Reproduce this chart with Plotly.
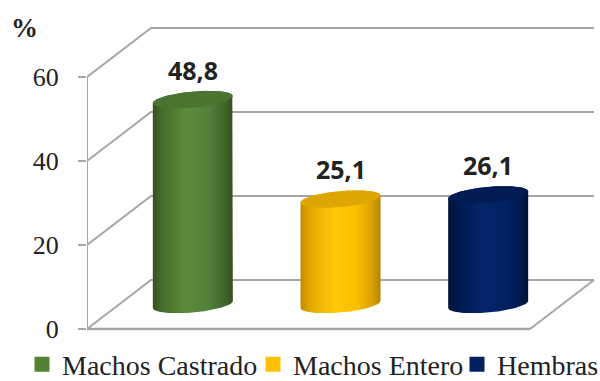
import numpy as np
import plotly.graph_objects as go

# ---- data -------------------------------------------------------------
categories = ["Machos Castrado", "Machos Entero", "Hembras"]
values = [48.8, 25.1, 26.1]
y_ticks = [0, 20, 40, 60]
y_unit_label = "%"

# ---- styling ----------------------------------------------------------
base_colors = ["#548235", "#FFC000", "#002060"]
side_scales = [
    [[0, "#35541f"], [0.12, "#456d2c"], [0.42, "#5b8c3b"], [0.7, "#52803a"], [0.9, "#41662a"], [1, "#334f1e"]],
    [[0, "#c08c00"], [0.12, "#e3a800"], [0.42, "#ffca08"], [0.7, "#fbbf00"], [0.9, "#d9a000"], [1, "#b38200"]],
    [[0, "#00123a"], [0.12, "#001a4e"], [0.42, "#05256a"], [0.7, "#022064"], [0.9, "#001a50"], [1, "#001036"]],
]
cap_colors = ["#4a7430", "#dea600", "#001c52"]
grid_color = "#a6a6a6"
text_color = "#222222"
serif = "Liberation Serif"

W, H = 600, 381
left_margin = 87
bottom_margin = 30
plot_w = W - left_margin
plot_h = H - bottom_margin
px_per_cat = 443 / 3          # horizontal size of one category slot on the front edge
px_per_unit = 4.2             # vertical pixels per percentage point
y0_px = 329                   # pixel row of value 0 on the front plane

x_range = [-0.5, -0.5 + plot_w / px_per_cat]
y_range = [-(plot_h - y0_px) / px_per_unit, y0_px / px_per_unit]

# oblique depth of the 3-D box
dx = 64 / px_per_cat
dy = 49 / px_per_unit
x_front0, x_front1 = -0.5, len(categories) - 0.5

fig = go.Figure()

# ---- walls / floor gridlines -------------------------------------------
gx, gy = [], []
for t in y_ticks:
    # side wall diagonal + back wall horizontal
    gx += [x_front0, x_front0 + dx, x_front1 + dx, None]
    gy += [t, t + dy, t + dy, None]
# floor right edge
gx += [x_front1, x_front1 + dx, None]
gy += [0, dy, None]
fig.add_trace(go.Scatter(x=gx, y=gy, mode="lines", line=dict(color=grid_color, width=2),
                         hoverinfo="skip", showlegend=False))
# floor front edge (slightly heavier) and front vertical axis line
fig.add_trace(go.Scatter(x=[x_front0, x_front1], y=[0, 0], mode="lines",
                         line=dict(color=grid_color, width=2.5), hoverinfo="skip", showlegend=False))
fig.add_trace(go.Scatter(x=[x_front0, x_front0], y=[min(y_ticks), max(y_ticks)], mode="lines",
                         line=dict(color=grid_color, width=2), hoverinfo="skip", showlegend=False))

# ---- cylinders ----------------------------------------------------------
radius = 40 / px_per_cat       # horizontal semi-axis (data units)
b = 8 / px_per_unit            # vertical semi-axis of the ellipses
shear = 3.5 / px_per_unit      # right side of the ellipses sits a little higher
t_low = np.linspace(np.pi, 2 * np.pi, 60)
t_up = np.linspace(0, np.pi, 60)
t_all = np.linspace(0, 2 * np.pi, 120)


def ellipse(xc, yc, t):
    return xc + radius * np.cos(t), yc + b * np.sin(t) + shear * np.cos(t)


for i, (name, v) in enumerate(zip(categories, values)):
    xc = i + dx / 2
    yb = dy / 2
    yt = v + dy / 2
    bx, by = ellipse(xc, yb, t_low)
    tx, ty = ellipse(xc, yt, t_up)
    sx = np.concatenate([bx, tx, bx[:1]])
    sy = np.concatenate([by, ty, by[:1]])
    fig.add_trace(go.Scatter(
        x=sx, y=sy, mode="lines", fill="toself", line=dict(width=0),
        fillgradient=dict(type="horizontal", colorscale=side_scales[i]),
        hoverinfo="skip", showlegend=False))
    cx, cy = ellipse(xc, yt, t_all)
    fig.add_trace(go.Scatter(
        x=cx, y=cy, mode="lines", fill="toself", line=dict(width=0),
        fillcolor=cap_colors[i], hoverinfo="skip", showlegend=False))
    fig.add_annotation(
        x=xc, y=yt, yshift=30, yanchor="middle", xanchor="center", showarrow=False,
        text="<b>" + f"{v:.1f}".replace(".", ",") + "</b>",
        font=dict(family="Open Sans", size=25, color=text_color))

# ---- legend: one legend box per series, laid out in a row --------------
legend_left_px = [22, 253, 457]
legend_names = ["legend", "legend2", "legend3"]
legend_layout = {}
for name, col, lg, lpx in zip(categories, base_colors, legend_names, legend_left_px):
    fig.add_trace(go.Scatter(
        x=[None], y=[None], mode="markers", name=name, legend=lg,
        marker=dict(symbol="square", size=15, color=col)))
    legend_layout[lg] = dict(
        orientation="h", x=(lpx - left_margin) / plot_w, xanchor="left",
        y=(plot_h - 364.5) / plot_h, yanchor="middle", itemwidth=30,
        font=dict(family=serif, size=28, color=text_color),
        bgcolor="rgba(0,0,0,0)")

fig.add_annotation(
    xref="paper", yref="paper", x=(24 - left_margin) / plot_w, y=1 - 28 / plot_h,
    xanchor="center", yanchor="middle",
    text="<b>" + y_unit_label + "</b>", showarrow=False,
    font=dict(family=serif, size=27, color=text_color))

fig.update_layout(
    width=W, height=H,
    margin=dict(l=left_margin, r=0, t=0, b=bottom_margin, autoexpand=False),
    paper_bgcolor="white", plot_bgcolor="white",
    xaxis=dict(range=x_range, visible=False, fixedrange=True),
    yaxis=dict(range=y_range, tickvals=y_ticks, ticks="outside", ticklen=8,
               tickwidth=2, tickcolor=grid_color, showline=False, showgrid=False,
               zeroline=False, fixedrange=True, ticklabelstandoff=14,
               tickfont=dict(family=serif, size=26, color=text_color)),
    showlegend=True,
    **legend_layout,
)

fig.write_html("out.html")
